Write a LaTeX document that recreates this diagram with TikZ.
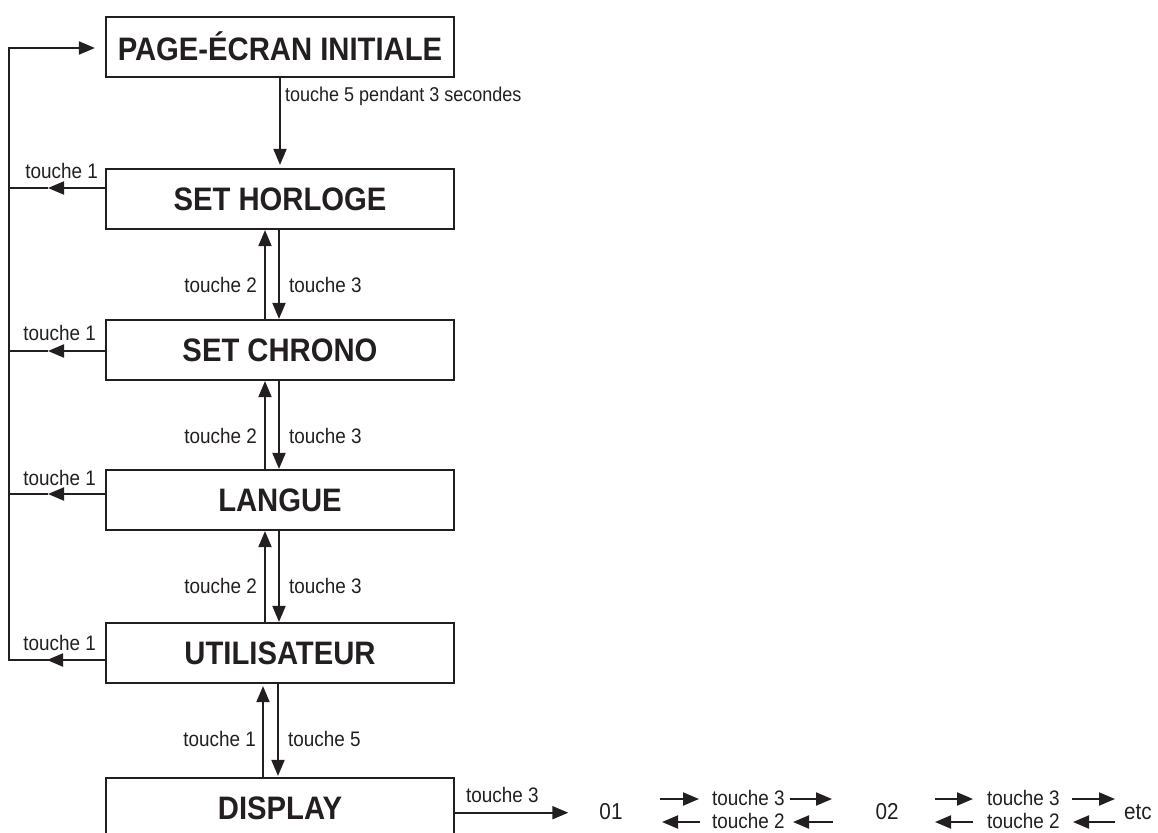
\documentclass[tikz,border=0pt]{standalone}
\usepackage{fontspec}
\setmainfont{Liberation Sans}
\newfontfamily\labfont[FakeStretch=0.9]{Liberation Sans}
\newfontfamily\boxfont[FakeStretch=0.9]{Liberation Sans}
\usetikzlibrary{arrows.meta}
\definecolor{ink}{RGB}{35,31,32}
\begin{document}
\begin{tikzpicture}[x=1pt,y=-1pt,
  box/.style={draw=ink, line width=2.2pt, minimum width=348pt, minimum height=60pt,
    inner sep=0pt, font=\boxfont\bfseries\fontsize{32.5}{36}\selectfont, text=ink},
  lab/.style={inner sep=0pt, font=\labfont\fontsize{21}{24}\selectfont, text=ink},
  num/.style={inner sep=0pt, font=\labfont\fontsize{23}{26}\selectfont, text=ink},
  arr/.style={draw=ink, line width=2pt, -{Triangle[length=16pt,width=13pt]}},
  ln/.style={draw=ink, line width=2pt},
]
\useasboundingbox (0,0) rectangle (1158,832);
\clip (0,0) rectangle (1158,832);

% boxes
\node[box] (pag) at (280,46.7) {PAGE-ÉCRAN INITIALE};
\node[box] (hor) at (280,199) {SET HORLOGE};
\node[box] (chr) at (280,350) {SET CHRONO};
\node[box] (lan) at (280,500) {LANGUE};
\node[box] (uti) at (280,653) {UTILISATEUR};
\node[box] (dis) at (280,808) {DISPLAY};

% initial -> horloge
\draw[arr, shorten >=3pt] (pag.south) -- (hor.north);
\node[lab, anchor=base west, font=\labfont\fontsize{20}{24}\selectfont] (l0) at (285,102) {touche 5 pendant 3 secondes};

% up/down pairs
\draw[arr] (265,0 |- chr.north) -- (265,0 |- hor.south);
\draw[arr] (279,0 |- hor.south) -- (279,0 |- chr.north);
\node[lab, anchor=base east] (a2) at (257,292) {touche 2};
\node[lab, anchor=base west] (a3) at (289,292) {touche 3};

\draw[arr] (265,0 |- lan.north) -- (265,0 |- chr.south);
\draw[arr] (279,0 |- chr.south) -- (279,0 |- lan.north);
\node[lab, anchor=base east] (b2) at (257,443) {touche 2};
\node[lab, anchor=base west] (b3) at (289,443) {touche 3};

\draw[arr] (265,0 |- uti.north) -- (265,0 |- lan.south);
\draw[arr] (279,0 |- lan.south) -- (279,0 |- uti.north);
\node[lab, anchor=base east] (c2) at (257,593) {touche 2};
\node[lab, anchor=base west] (c3) at (289,593) {touche 3};

\draw[arr, shorten >=2pt] (263,0 |- dis.north) -- (263,0 |- uti.south);
\draw[arr, shorten >=1pt] (278,0 |- uti.south) -- (278,0 |- dis.north);
\node[lab, anchor=base east] (d1) at (256,746.7) {touche 1};
\node[lab, anchor=base west] (d5) at (288,746.7) {touche 5};

% left loop (touche 1)
\coordinate (lt) at (9,48);
\coordinate (lb) at (9,660);
\draw[arr, line join=miter, shorten >=10pt] (uti.west |- lb) -- (lb) -- (lt) -- (pag.west |- lt);
\draw[arr] (uti.west |- lb) -- (47,660);
\draw[arr] (hor.west |- 0,188) -- (48,188);
\draw[ln] (48,188) -- (9,188);
\draw[arr] (chr.west |- 0,351) -- (48,351);
\draw[ln] (48,351) -- (9,351);
\draw[arr] (lan.west |- 0,494) -- (48,494);
\draw[ln] (48,494) -- (9,494);
\node[lab, anchor=base east] (e1) at (98,178) {touche 1};
\node[lab, anchor=base east] (e2) at (96,340) {touche 1};
\node[lab, anchor=base east] (e3) at (96,485) {touche 1};
\node[lab, anchor=base east] (e4) at (96,650) {touche 1};

% display row
\node[num] (n01) at (611,811.5) {01};
\node[num] (n02) at (887,812) {02};
\node[num, anchor=base west] (etc) at (1124,819) {etc};
\draw[arr, shorten >=31pt] (dis.east |- 0,812.7) -- (n01.west |- 0,812.7);
\node[lab, anchor=base west] (f3) at (466,802) {touche 3};

\node[lab, anchor=base west] (g3) at (712,805) {touche 3};
\node[lab, anchor=base west] (g2) at (712,828) {touche 2};
\draw[arr] (660,799) -- (699,799);
\draw[arr] (790,799) -- (832,799);
\draw[arr] (700,822) -- (662,822);
\draw[arr] (833,822) -- (793,822);

\node[lab, anchor=base west] (h3) at (987,805) {touche 3};
\node[lab, anchor=base west] (h2) at (987,828) {touche 2};
\draw[arr] (935,799) -- (973,799);
\draw[arr] (1072,799) -- (1115,799);
\draw[arr] (973,822) -- (935,822);
\draw[arr] (1115,822) -- (1073,822);
\end{tikzpicture}
\end{document}
